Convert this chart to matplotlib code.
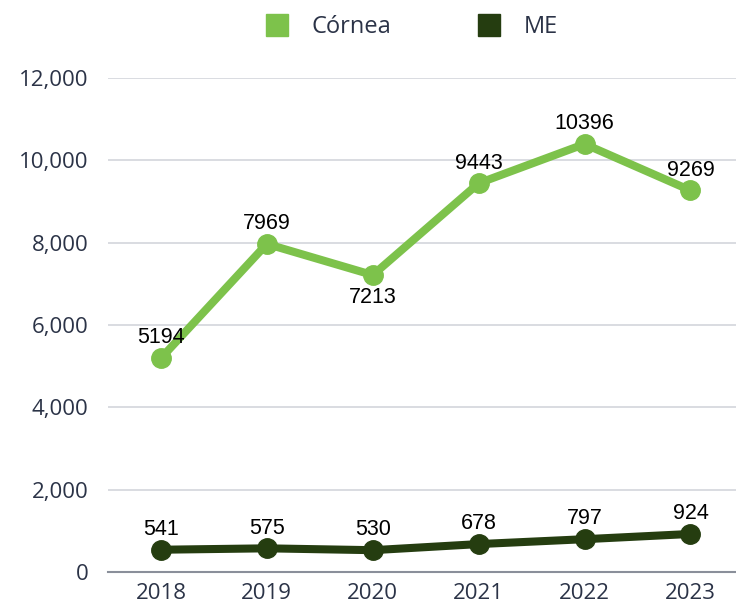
import matplotlib
matplotlib.use("Agg")
import matplotlib.pyplot as plt
from matplotlib.lines import Line2D
from matplotlib.ticker import FuncFormatter

years = ["2018", "2019", "2020", "2021", "2022", "2023"]
cornea = [5194, 7969, 7213, 9443, 10396, 9269]
me = [541, 575, 530, 678, 797, 924]
yticks = [0, 2000, 4000, 6000, 8000, 10000, 12000]

c_light = "#7DC24B"
c_dark = "#253D10"
txt = "#2B3347"

fig = plt.figure(figsize=(7.36, 6.05), dpi=100)
ax = fig.add_axes([108/736, 33/605, 628/736, 494/605])

x = list(range(len(years)))
ax.plot(x, cornea, color=c_light, lw=5.8, marker="o", ms=14, solid_capstyle="round", zorder=3)
ax.plot(x, me, color=c_dark, lw=5.8, marker="o", ms=14, solid_capstyle="round", zorder=3)

lab_kw = dict(textcoords="offset points", ha="center", fontsize=15.5,
              family="Liberation Sans", color="black")
for i, v in enumerate(cornea):
    below = 0 < i < len(cornea) - 1 and v < cornea[i-1] and v < cornea[i+1]
    if below:
        ax.annotate(str(v), (i, v), xytext=(0, -8.5), va="top", **lab_kw)
    else:
        ax.annotate(str(v), (i, v), xytext=(0, 7), va="bottom", **lab_kw)
for i, v in enumerate(me):
    ax.annotate(str(v), (i, v), xytext=(0, 7), va="bottom", **lab_kw)

ax.set_xlim(-0.5, 5.43)
ax.set_ylim(0, 12000)
ax.set_yticks(yticks)
ax.yaxis.set_major_formatter(FuncFormatter(lambda v, p: f"{int(v):,}"))
ax.set_xticks(x)
ax.set_xticklabels(years)
ax.grid(axis="y", color="#D3D6DC", lw=1.2, zorder=0)
ax.set_axisbelow(True)
for s in ["top", "right", "left"]:
    ax.spines[s].set_visible(False)
ax.spines["bottom"].set_color("#8A8F9A")
ax.spines["bottom"].set_linewidth(1.5)
ax.tick_params(axis="both", length=0, labelsize=16, labelcolor=txt)
ax.tick_params(axis="y", pad=14)
ax.tick_params(axis="x", pad=8)
for lbl in ax.get_xticklabels() + ax.get_yticklabels():
    lbl.set_family("Open Sans")
    lbl.set_fontweight("medium")

handles = [Line2D([], [], ls="none", marker="s", ms=16, mfc=c_light, mec=c_light),
           Line2D([], [], ls="none", marker="s", ms=16, mfc=c_dark, mec=c_dark)]
leg = fig.legend(handles, ["Córnea", "ME"], loc="center", bbox_to_anchor=(0.559, 1 - 27/605),
                 ncol=2, frameon=False, prop={"family": "Open Sans", "size": 17, "weight": "medium"},
                 handlelength=1.0, handletextpad=1.0, columnspacing=3.6, borderaxespad=0.0)
for t in leg.get_texts():
    t.set_color(txt)

fig.savefig("out.png", dpi=100)
